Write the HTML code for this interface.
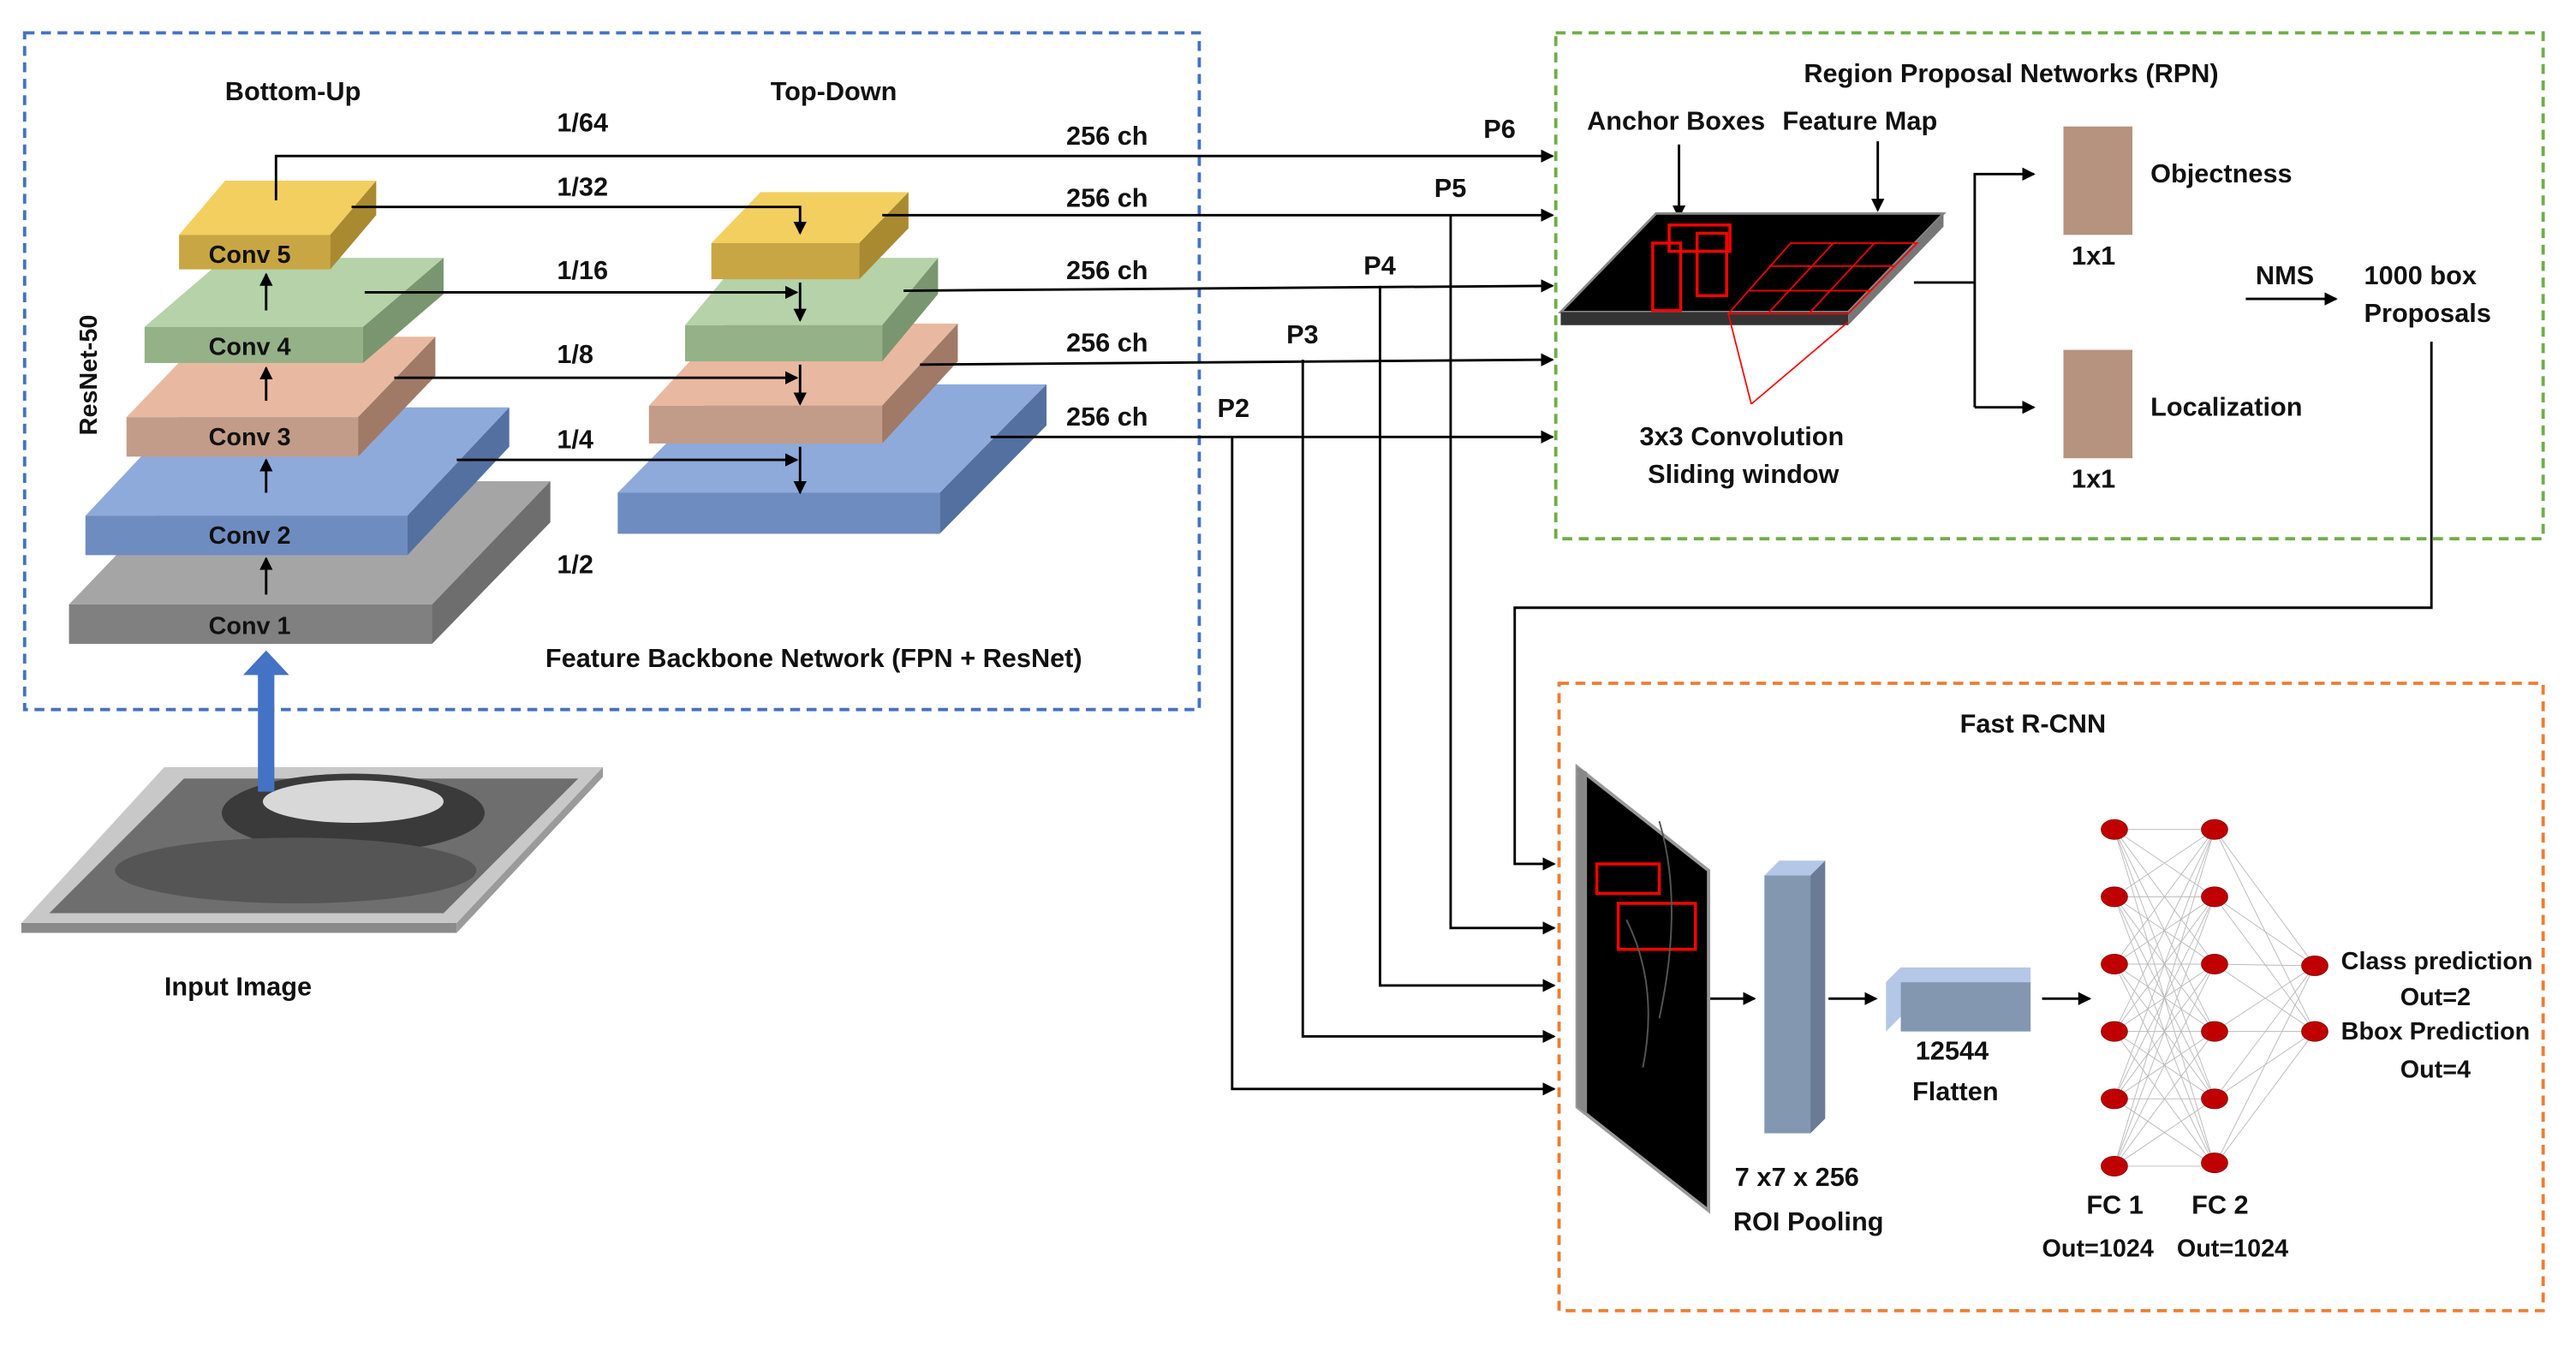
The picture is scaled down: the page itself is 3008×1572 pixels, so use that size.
<!DOCTYPE html>
<html><head><meta charset="utf-8"><style>
html,body{margin:0;padding:0;background:#fff;}
svg{display:block;}
text{font-family:"Liberation Sans",sans-serif;font-weight:bold;font-size:16px;fill:#111;}
</style></head><body>
<svg width="3008" height="1572" viewBox="0 0 1568 819.5" preserveAspectRatio="none" xmlns="http://www.w3.org/2000/svg">
<defs>
<marker id="a" markerWidth="8" markerHeight="8" refX="7" refY="4" orient="auto" markerUnits="userSpaceOnUse"><path d="M0,0 L8,4 L0,8 z" fill="#000"/></marker>
</defs>
<rect x="15" y="20" width="715" height="412" fill="none" stroke="#4472c4" stroke-width="2" stroke-dasharray="6,4"/>
<rect x="947" y="20" width="601" height="308" fill="none" stroke="#70ad47" stroke-width="2" stroke-dasharray="6,4"/>
<rect x="949" y="416" width="599" height="382" fill="none" stroke="#ed7d31" stroke-width="2" stroke-dasharray="6,4"/>

<g stroke="none">
<polygon points="42,368 263,368 335,293 114,293" fill="#a5a5a5"/>
<polygon points="263,368 335,293 335,318 263,392" fill="#6e6e6e"/>
<rect x="42" y="368" width="221" height="24" fill="#808080"/>
<polygon points="52,314 248,314 310,248 114,248" fill="#8eaadb"/>
<polygon points="248,314 310,248 310,272 248,338" fill="#5470a0"/>
<rect x="52" y="314" width="196" height="24" fill="#6f8cc0"/>
<polygon points="77,254 218,254 265,205 124,205" fill="#e8b9a0"/>
<polygon points="218,254 265,205 265,229 218,278" fill="#a07a66"/>
<rect x="77" y="254" width="141" height="24" fill="#c29c88"/>
<polygon points="88,199 221,199 270,157 137,157" fill="#b5d2a8"/>
<polygon points="221,199 270,157 270,179 221,221" fill="#7a9670"/>
<rect x="88" y="199" width="133" height="22" fill="#95b187"/>
<polygon points="109,143 201,143 229,110 137,110" fill="#f3cf60"/>
<polygon points="201,143 229,110 229,131 201,164" fill="#a98a30"/>
<rect x="109" y="143" width="92" height="21" fill="#c9a644"/>
<polygon points="376,300 572,300 637,234 441,234" fill="#8eaadb"/>
<polygon points="572,300 637,234 637,259 572,325" fill="#5470a0"/>
<rect x="376" y="300" width="196" height="25" fill="#6f8cc0"/>
<polygon points="395,247 537,247 583,197 441,197" fill="#e8b9a0"/>
<polygon points="537,247 583,197 583,220 537,270" fill="#a07a66"/>
<rect x="395" y="247" width="142" height="23" fill="#c29c88"/>
<polygon points="417,198 537,198 571,157 451,157" fill="#b5d2a8"/>
<polygon points="537,198 571,157 571,179 537,220" fill="#7a9670"/>
<rect x="417" y="198" width="120" height="22" fill="#95b187"/>
<polygon points="433,148 523,148 553,117 463,117" fill="#f3cf60"/>
<polygon points="523,148 553,117 553,139 523,170" fill="#a98a30"/>
<rect x="433" y="148" width="90" height="22" fill="#c9a644"/>
</g>
<text x="127" y="386" style="font-size:15px">Conv 1</text>
<text x="127" y="331" style="font-size:15px">Conv 2</text>
<text x="127" y="271" style="font-size:15px">Conv 3</text>
<text x="127" y="216" style="font-size:15px">Conv 4</text>
<text x="127" y="160" style="font-size:15px">Conv 5</text>
<text x="137" y="61">Bottom-Up</text>
<text x="469" y="61">Top-Down</text>
<text x="0" y="0" transform="translate(59,265) rotate(-90)" style="font-size:15px">ResNet-50</text>
<text x="339" y="80">1/64</text>
<text x="339" y="119">1/32</text>
<text x="339" y="170">1/16</text>
<text x="339" y="221">1/8</text>
<text x="339" y="273">1/4</text>
<text x="339" y="349">1/2</text>
<text x="332" y="406">Feature Backbone Network (FPN + ResNet)</text>

<g stroke="#000" stroke-width="1.5" fill="none">
<line x1="162" y1="362" x2="162" y2="340" marker-end="url(#a)"/>
<line x1="162" y1="300" x2="162" y2="280" marker-end="url(#a)"/>
<line x1="162" y1="244" x2="162" y2="224" marker-end="url(#a)"/>
<line x1="162" y1="189" x2="162" y2="167" marker-end="url(#a)"/>
<polyline points="214,126 487,126 487,142" marker-end="url(#a)"/>
<line x1="222" y1="178" x2="485" y2="178" marker-end="url(#a)"/>
<line x1="240" y1="230" x2="485" y2="230" marker-end="url(#a)"/>
<line x1="278" y1="280" x2="485" y2="280" marker-end="url(#a)"/>
<line x1="487" y1="172" x2="487" y2="195" marker-end="url(#a)"/>
<line x1="487" y1="222" x2="487" y2="246" marker-end="url(#a)"/>
<line x1="487" y1="272" x2="487" y2="300" marker-end="url(#a)"/>
<polyline points="168,122 168,95 945,95" marker-end="url(#a)"/>
<line x1="537" y1="131" x2="945" y2="131" marker-end="url(#a)"/>
<line x1="550" y1="177" x2="945" y2="174" marker-end="url(#a)"/>
<line x1="560" y1="222" x2="945" y2="219" marker-end="url(#a)"/>
<line x1="603" y1="266" x2="945" y2="266" marker-end="url(#a)"/>
<polyline points="883,131 883,565 946,565" marker-end="url(#a)"/>
<polyline points="840,174 840,600 946,600" marker-end="url(#a)"/>
<polyline points="793,219 793,631 946,631" marker-end="url(#a)"/>
<polyline points="750,266 750,663 946,663" marker-end="url(#a)"/>
<polyline points="1480,208 1480,370 922,370 922,526 946,526" marker-end="url(#a)"/>
<line x1="1022" y1="88" x2="1022" y2="132" marker-end="url(#a)"/>
<line x1="1143" y1="86" x2="1143" y2="128" marker-end="url(#a)"/>
<polyline points="1165,172 1202,172"/>
<polyline points="1202,248 1202,106 1238,106" marker-end="url(#a)"/>
<line x1="1202" y1="248" x2="1238" y2="248" marker-end="url(#a)"/>
<line x1="1367" y1="182" x2="1422" y2="182" marker-end="url(#a)"/>
<line x1="1040" y1="608" x2="1068" y2="608" marker-end="url(#a)"/>
<line x1="1113" y1="608" x2="1142" y2="608" marker-end="url(#a)"/>
<line x1="1243" y1="608" x2="1272" y2="608" marker-end="url(#a)"/>
</g>
<text x="649" y="88">256 ch</text>
<text x="649" y="126">256 ch</text>
<text x="649" y="170">256 ch</text>
<text x="649" y="214">256 ch</text>
<text x="649" y="259">256 ch</text>
<text x="903" y="84">P6</text>
<text x="873" y="120">P5</text>
<text x="830" y="167">P4</text>
<text x="783" y="209">P3</text>
<text x="741" y="254">P2</text>

<polygon points="13,562 278,562 367,467 100,467" fill="#c8c8c8"/>
<polygon points="13,562 278,562 278,568 13,568" fill="#8a8a8a"/>
<polygon points="278,562 367,467 367,473 278,568" fill="#9a9a9a"/>
<polygon points="30,556 270,556 352,474 112,474" fill="#6e6e6e"/>
<ellipse cx="215" cy="495" rx="80" ry="24" fill="#3a3a3a"/>
<ellipse cx="215" cy="488" rx="55" ry="13" fill="#d8d8d8"/>
<ellipse cx="180" cy="530" rx="110" ry="20" fill="#555"/>
<rect x="157" y="410" width="10" height="72" fill="#4472c4"/>
<polygon points="148,411 176,411 162,396" fill="#4472c4"/>
<text x="100" y="606">Input Image</text>

<text x="1098" y="50">Region Proposal Networks (RPN)</text>
<text x="966" y="79">Anchor Boxes</text>
<text x="1085" y="79">Feature Map</text>
<polygon points="950,190 1008,130 1183,130 1125,190" fill="#000" stroke="#888" stroke-width="1.5"/>
<polygon points="950,190 1125,190 1125,198 950,198" fill="#333"/>
<polygon points="1125,190 1183,130 1183,138 1125,198" fill="#777"/>
<g fill="none" stroke="#f00" stroke-width="1.8">
<rect x="1016" y="137" width="37" height="16"/>
<rect x="1006" y="148" width="17" height="41"/>
<rect x="1033" y="142" width="18" height="38"/>
</g>
<g fill="none" stroke="#f00" stroke-width="0.9">
<polygon points="1052,191 1125,191 1167,148 1090,148"/>
<line x1="1077" y1="162" x2="1153" y2="162"/>
<line x1="1065" y1="177" x2="1139" y2="177"/>
<line x1="1076" y1="191" x2="1116" y2="148"/>
<line x1="1101" y1="191" x2="1141" y2="148"/>
<line x1="1052" y1="191" x2="1066" y2="246"/>
<line x1="1125" y1="196" x2="1066" y2="246"/>
</g>
<text x="998" y="271">3x3 Convolution</text>
<text x="1003" y="294">Sliding window</text>
<rect x="1256" y="77" width="42" height="66" fill="#b5937e"/>
<rect x="1256" y="213" width="42" height="66" fill="#b5937e"/>
<text x="1309" y="111">Objectness</text>
<text x="1309" y="253">Localization</text>
<text x="1261" y="161">1x1</text>
<text x="1261" y="297">1x1</text>
<text x="1373" y="173">NMS</text>
<text x="1439" y="173">1000 box</text>
<text x="1439" y="196">Proposals</text>

<text x="1193" y="446">Fast R-CNN</text>
<polygon points="960,467 1040,530 1040,737 960,674" fill="#000" stroke="#999" stroke-width="2"/>
<polygon points="960,467 966,470 966,678 960,674" fill="#888"/>
<g fill="none" stroke="#f00" stroke-width="1.8">
<rect x="972" y="526" width="38" height="18"/>
<rect x="985" y="550" width="47" height="28"/>
</g>
<path d="M990,560 q20,40 10,90 M1010,500 q15,50 0,120" stroke="#555" fill="none"/>
<polygon points="1074,533 1102,533 1111,524 1083,524" fill="#b4c7e7"/>
<polygon points="1102,533 1111,524 1111,681 1102,690" fill="#6b7b95"/>
<rect x="1074" y="533" width="28" height="157" fill="#8497b0"/>
<polygon points="1148,598 1236,598 1236,589 1157,589" fill="#b4c7e7"/>
<polygon points="1148,598 1157,589 1157,619 1148,628" fill="#b4c7e7"/>
<rect x="1157" y="598" width="79" height="30" fill="#8497b0"/>
<text x="1056" y="722">7 x7 x 256</text>
<text x="1055" y="749">ROI Pooling</text>
<text x="1166" y="645">12544</text>
<text x="1164" y="670">Flatten</text>
<g stroke="#bbb" stroke-width="0.5">
<path d="M1287,505 L1348,505 M1287,505 L1348,546 M1287,505 L1348,587 M1287,505 L1348,628 M1287,505 L1348,669 M1287,505 L1348,710
M1287,546 L1348,505 M1287,546 L1348,546 M1287,546 L1348,587 M1287,546 L1348,628 M1287,546 L1348,669 M1287,546 L1348,710
M1287,587 L1348,505 M1287,587 L1348,546 M1287,587 L1348,587 M1287,587 L1348,628 M1287,587 L1348,669 M1287,587 L1348,710
M1287,628 L1348,505 M1287,628 L1348,546 M1287,628 L1348,587 M1287,628 L1348,628 M1287,628 L1348,669 M1287,628 L1348,710
M1287,669 L1348,505 M1287,669 L1348,546 M1287,669 L1348,587 M1287,669 L1348,628 M1287,669 L1348,669 M1287,669 L1348,710
M1287,710 L1348,505 M1287,710 L1348,546 M1287,710 L1348,587 M1287,710 L1348,628 M1287,710 L1348,669 M1287,710 L1348,710
M1348,505 L1409,588 M1348,546 L1409,588 M1348,587 L1409,588 M1348,628 L1409,588 M1348,669 L1409,588 M1348,710 L1409,588
M1348,505 L1409,628 M1348,546 L1409,628 M1348,587 L1409,628 M1348,628 L1409,628 M1348,669 L1409,628 M1348,710 L1409,628"/>
</g>
<g fill="#c00000" stroke="#800" stroke-width="0.5">
<ellipse cx="1287" cy="505" rx="8" ry="6"/><ellipse cx="1287" cy="546" rx="8" ry="6"/><ellipse cx="1287" cy="587" rx="8" ry="6"/>
<ellipse cx="1287" cy="628" rx="8" ry="6"/><ellipse cx="1287" cy="669" rx="8" ry="6"/><ellipse cx="1287" cy="710" rx="8" ry="6"/>
<ellipse cx="1348" cy="505" rx="8" ry="6"/><ellipse cx="1348" cy="546" rx="8" ry="6"/><ellipse cx="1348" cy="587" rx="8" ry="6"/>
<ellipse cx="1348" cy="628" rx="8" ry="6"/><ellipse cx="1348" cy="669" rx="8" ry="6"/><ellipse cx="1348" cy="708" rx="8" ry="6"/>
<ellipse cx="1409" cy="588" rx="8" ry="6"/><ellipse cx="1409" cy="628" rx="8" ry="6"/>
</g>
<text x="1270" y="739">FC 1</text>
<text x="1334" y="739">FC 2</text>
<text x="1243" y="765" style="font-size:15px">Out=1024</text>
<text x="1325" y="765" style="font-size:15px">Out=1024</text>
<text x="1425" y="590" style="font-size:15px">Class prediction</text>
<text x="1461" y="612" style="font-size:15px">Out=2</text>
<text x="1425" y="633" style="font-size:15px">Bbox Prediction</text>
<text x="1461" y="656" style="font-size:15px">Out=4</text>
</svg>
</body></html>
